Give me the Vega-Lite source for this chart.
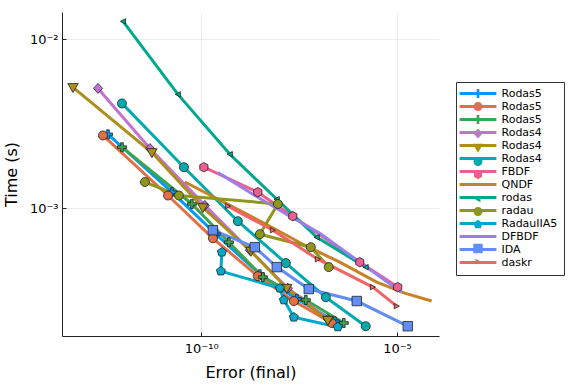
{
  "$schema": "https://vega.github.io/schema/vega-lite/v6.json",
  "width": 377,
  "height": 324,
  "autosize": {"type": "none"},
  "padding": {"left": 62, "top": 12, "right": 137, "bottom": 48},
  "background": "white",
  "config": {
    "font": "DejaVu Sans",
    "view": {"stroke": null},
    "axis": {
      "domainColor": "#222", "domainWidth": 1,
      "gridColor": "#000", "gridOpacity": 0.1, "gridWidth": 0.7,
      "tickColor": "#222", "tickSize": -4,
      "labelFontSize": 13, "labelColor": "#000",
      "titleFontSize": 16, "titleFontWeight": "normal", "titleColor": "#000"
    }
  },
  "data": {"values": [
    {"s":"01Rodas5","i":1,"x":4.17e-13,"y":2.74e-3},
    {"s":"01Rodas5","i":2,"x":1.79e-11,"y":1.245e-3},
    {"s":"01Rodas5","i":3,"x":2.37e-10,"y":7.02e-4},
    {"s":"01Rodas5","i":4,"x":3.14e-9,"y":4.06e-4},
    {"s":"01Rodas5","i":5,"x":2.76e-8,"y":2.90e-4},
    {"s":"01Rodas5","i":6,"x":2.58e-7,"y":2.14e-4},
    {"s":"02Rodas5","i":1,"x":3.10e-13,"y":2.70e-3},
    {"s":"02Rodas5","i":2,"x":1.42e-11,"y":1.19e-3},
    {"s":"02Rodas5","i":3,"x":1.99e-10,"y":6.64e-4},
    {"s":"02Rodas5","i":4,"x":2.79e-9,"y":3.96e-4},
    {"s":"02Rodas5","i":5,"x":2.32e-8,"y":2.82e-4},
    {"s":"02Rodas5","i":6,"x":2.16e-7,"y":2.09e-4},
    {"s":"03Rodas5","i":1,"x":9.48e-13,"y":2.30e-3},
    {"s":"03Rodas5","i":2,"x":5.79e-11,"y":1.06e-3},
    {"s":"03Rodas5","i":3,"x":5.09e-10,"y":6.29e-4},
    {"s":"03Rodas5","i":4,"x":3.75e-9,"y":3.91e-4},
    {"s":"03Rodas5","i":5,"x":4.69e-8,"y":2.86e-4},
    {"s":"03Rodas5","i":6,"x":4.37e-7,"y":2.09e-4},
    {"s":"04Rodas4","i":1,"x":2.32e-13,"y":5.13e-3},
    {"s":"04Rodas4","i":2,"x":4.91e-12,"y":2.26e-3},
    {"s":"04Rodas4","i":3,"x":1.24e-10,"y":1.04e-3},
    {"s":"04Rodas4","i":4,"x":1.75e-9,"y":5.64e-4},
    {"s":"04Rodas4","i":5,"x":1.63e-8,"y":3.36e-4},
    {"s":"04Rodas4","i":6,"x":1.71e-7,"y":2.20e-4},
    {"s":"05Rodas4","i":1,"x":5.33e-14,"y":5.20e-3},
    {"s":"05Rodas4","i":2,"x":5.52e-12,"y":2.14e-3},
    {"s":"05Rodas4","i":3,"x":1.10e-10,"y":1.01e-3},
    {"s":"05Rodas4","i":4,"x":1.85e-9,"y":5.57e-4},
    {"s":"05Rodas4","i":5,"x":1.53e-8,"y":3.36e-4},
    {"s":"05Rodas4","i":6,"x":1.71e-7,"y":2.17e-4},
    {"s":"06Rodas4","i":1,"x":9.48e-13,"y":4.18e-3},
    {"s":"06Rodas4","i":2,"x":3.62e-11,"y":1.75e-3},
    {"s":"06Rodas4","i":3,"x":8.63e-10,"y":8.38e-4},
    {"s":"06Rodas4","i":4,"x":1.45e-8,"y":4.73e-4},
    {"s":"06Rodas4","i":5,"x":1.52e-7,"y":2.97e-4},
    {"s":"06Rodas4","i":6,"x":1.59e-6,"y":2.00e-4},
    {"s":"07FBDF","i":1,"x":1.17e-10,"y":1.75e-3},
    {"s":"07FBDF","i":2,"x":2.79e-9,"y":1.245e-3},
    {"s":"07FBDF","i":3,"x":2.18e-8,"y":8.97e-4},
    {"s":"07FBDF","i":4,"x":1.12e-6,"y":4.79e-4},
    {"s":"07FBDF","i":5,"x":1.04e-5,"y":3.41e-4},
    {"s":"08QNDF","i":1,"x":3.84e-11,"y":1.43e-3},
    {"s":"08QNDF","i":2,"x":5.40e-10,"y":1.04e-3},
    {"s":"08QNDF","i":3,"x":5.66e-9,"y":7.82e-4},
    {"s":"08QNDF","i":4,"x":4.42e-8,"y":6.04e-4},
    {"s":"08QNDF","i":5,"x":3.45e-7,"y":4.79e-4},
    {"s":"08QNDF","i":6,"x":3.03e-6,"y":3.65e-4},
    {"s":"08QNDF","i":7,"x":1.57e-5,"y":3.14e-4},
    {"s":"08QNDF","i":8,"x":7.67e-5,"y":2.82e-4},
    {"s":"09rodas","i":1,"x":1.01e-12,"y":1.28e-2},
    {"s":"09rodas","i":2,"x":2.55e-11,"y":4.73e-3},
    {"s":"09rodas","i":3,"x":5.40e-10,"y":2.09e-3},
    {"s":"09rodas","i":4,"x":8.53e-9,"y":1.13e-3},
    {"s":"09rodas","i":5,"x":8.95e-8,"y":6.73e-4},
    {"s":"09rodas","i":6,"x":1.59e-6,"y":4.48e-4},
    {"s":"10radau","i":1,"x":3.66e-12,"y":1.43e-3},
    {"s":"10radau","i":2,"x":2.70e-11,"y":1.19e-3},
    {"s":"10radau","i":3,"x":9.06e-9,"y":1.06e-3},
    {"s":"10radau","i":4,"x":3.14e-9,"y":7.02e-4},
    {"s":"10radau","i":5,"x":6.28e-8,"y":5.88e-4},
    {"s":"10radau","i":6,"x":1.81e-7,"y":4.48e-4},
    {"s":"11RadauIIA5","i":1,"x":3.37e-10,"y":5.49e-4},
    {"s":"11RadauIIA5","i":2,"x":3.18e-10,"y":4.24e-4},
    {"s":"11RadauIIA5","i":3,"x":1.02e-8,"y":3.36e-4},
    {"s":"11RadauIIA5","i":4,"x":1.29e-8,"y":2.86e-4},
    {"s":"11RadauIIA5","i":5,"x":2.32e-8,"y":2.26e-4},
    {"s":"11RadauIIA5","i":6,"x":3.07e-7,"y":1.98e-4},
    {"s":"12DFBDF","i":1,"x":2.67e-10,"y":1.63e-3},
    {"s":"12DFBDF","i":2,"x":2.34e-9,"y":1.19e-3},
    {"s":"12DFBDF","i":3,"x":1.83e-8,"y":8.97e-4},
    {"s":"12DFBDF","i":4,"x":1.07e-7,"y":7.11e-4},
    {"s":"12DFBDF","i":5,"x":1.12e-6,"y":4.79e-4},
    {"s":"12DFBDF","i":6,"x":1.32e-5,"y":3.18e-4},
    {"s":"13IDA","i":1,"x":1.99e-10,"y":7.41e-4},
    {"s":"13IDA","i":2,"x":2.34e-9,"y":5.88e-4},
    {"s":"13IDA","i":3,"x":8.53e-9,"y":4.48e-4},
    {"s":"13IDA","i":4,"x":5.58e-8,"y":3.32e-4},
    {"s":"13IDA","i":5,"x":9.37e-7,"y":2.82e-4},
    {"s":"13IDA","i":6,"x":1.88e-5,"y":2.00e-4},
    {"s":"14daskr","i":1,"x":4.80e-10,"y":1.03e-3},
    {"s":"14daskr","i":2,"x":6.74e-9,"y":7.41e-4},
    {"s":"14daskr","i":3,"x":9.48e-8,"y":4.99e-4},
    {"s":"14daskr","i":4,"x":2.40e-6,"y":3.41e-4},
    {"s":"14daskr","i":5,"x":9.82e-6,"y":2.63e-4}
  ]},
  "encoding": {
    "x": {
      "field": "x", "type": "quantitative", "title": "Error (final)",
      "scale": {"type": "log", "domain": [2.79e-14, 1.18e-4], "nice": false, "zero": false},
      "axis": {
        "values": [1e-10, 1e-5],
        "labelExpr": "round(log(datum.value)/LN10) == -10 ? '10⁻¹⁰' : '10⁻⁵'",
        "labelPadding": 10, "titlePadding": 9, "labelFlush": false
      }
    },
    "y": {
      "field": "y", "type": "quantitative", "title": "Time (s)",
      "scale": {"type": "log", "domain": [1.75e-4, 1.455e-2], "nice": false, "zero": false},
      "axis": {
        "values": [0.001, 0.01],
        "labelExpr": "round(log(datum.value)/LN10) == -2 ? '10⁻²' : '10⁻³'",
        "labelPadding": 8, "titlePadding": 10
      }
    }
  },
  "layer": [
    {
      "mark": {"type": "line", "strokeWidth": 3},
      "encoding": {
        "color": {
          "field": "s", "type": "nominal",
          "scale": {
            "domain": ["01Rodas5","02Rodas5","03Rodas5","04Rodas4","05Rodas4","06Rodas4","07FBDF","08QNDF","09rodas","10radau","11RadauIIA5","12DFBDF","13IDA","14daskr"],
            "range": ["#009AFA","#E36F47","#3EA44E","#C371D2","#AC8E18","#00AAAE","#ED5E93","#C68225","#00A98D","#8E971D","#00A9C9","#9B7FE8","#618DF6","#F16467"]
          },
          "legend": {
            "orient": "none", "legendX": 394, "legendY": 70, "title": null,
            "symbolType": "M-4.6,0H4.6", "symbolSize": 64, "symbolStrokeWidth": 3,
            "labelExpr": "substring(datum.label, 2)",
            "labelFontSize": 11, "labelColor": "#000",
            "padding": 6, "rowPadding": 0, "symbolOffset": 10.5, "labelOffset": 18,
            "strokeColor": "#333"
          }
        },
        "order": {"field": "i", "type": "quantitative"}
      }
    },
    {
      "mark": {"type": "point", "filled": true, "size": 81, "opacity": 1, "stroke": "#222", "strokeWidth": 0.8},
      "encoding": {
        "fill": {
          "field": "s", "type": "nominal",
          "scale": {"range": ["#009AFA","#E36F47","#3EA44E","#C371D2","#AC8E18","#00AAAE","#ED5E93","#C68225","#00A98D","#8E971D","#00A9C9","#9B7FE8","#618DF6","#F16467"]},
          "legend": {
            "orient": "none", "legendX": 394, "legendY": 70, "title": null,
            "symbolSize": 81, "symbolStrokeColor": "#222", "symbolStrokeWidth": 0.8,
            "labelExpr": "''",
            "labelFontSize": 11,
            "padding": 6, "rowPadding": 0, "symbolOffset": 10.5, "labelOffset": 18
          }
        },
        "shape": {
          "field": "s", "type": "nominal",
          "scale": {"range": [
            "M-1,-0.3H-0.3V-1H0.3V-0.3H1V0.3H0.3V1H-0.3V0.3H-1Z",
            "M1,0A1,1,0,1,1,-1,0A1,1,0,1,1,1,0Z",
            "M-1,-0.3H-0.3V-1H0.3V-0.3H1V0.3H0.3V1H-0.3V0.3H-1Z",
            "M0,-1.1L1,0L0,1.1L-1,0Z",
            "M-1.15,-0.85L1.15,-0.85L0,1.15Z",
            "M1,0A1,1,0,1,1,-1,0A1,1,0,1,1,1,0Z",
            "M0,-1.05L0.91,-0.525L0.91,0.525L0,1.05L-0.91,0.525L-0.91,-0.525Z",
            "M0,0Z",
            "M-0.6,0L0.55,-0.6L0.55,0.6Z",
            "M1,0A1,1,0,1,1,-1,0A1,1,0,1,1,1,0Z",
            "M0,-1.05L1,-0.32L0.62,0.85L-0.62,0.85L-1,-0.32Z",
            "M0,0Z",
            "M-1.05,-1.05H1.05V1.05H-1.05Z",
            "M0.6,0L-0.55,-0.6L-0.55,0.6Z"
          ]},
          "legend": {
            "orient": "none", "legendX": 394, "legendY": 70, "title": null,
            "symbolSize": 81, "symbolStrokeColor": "#222", "symbolStrokeWidth": 0.8,
            "labelExpr": "''",
            "labelFontSize": 11,
            "padding": 6, "rowPadding": 0, "symbolOffset": 10.5, "labelOffset": 18
          }
        }
      }
    }
  ]
}
